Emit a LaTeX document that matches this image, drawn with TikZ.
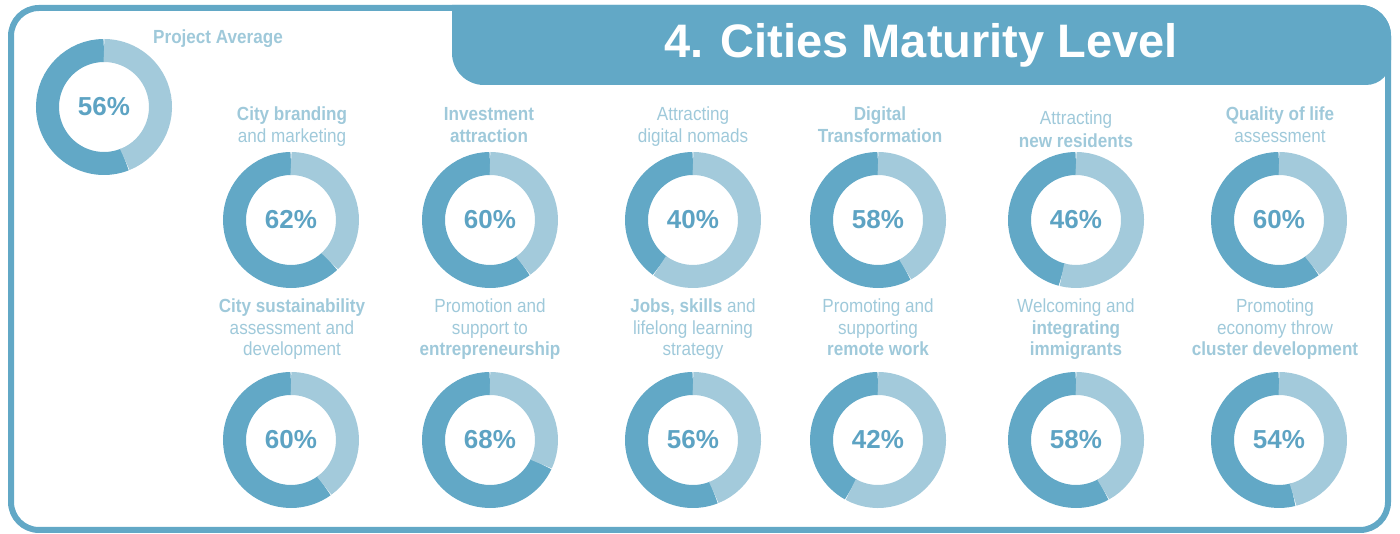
\documentclass[tikz,border=0pt]{standalone}
\usepackage{fontspec}
\setmainfont{Liberation Sans}
\newfontfamily\labelfont[FakeStretch=0.9]{Liberation Sans}
\definecolor{cdark}{HTML}{62A8C6}
\definecolor{clight}{HTML}{A3CADB}
\definecolor{cpct}{HTML}{5DA3C3}
\definecolor{clabel}{HTML}{9FC9DA}
\tikzset{
  donutdark/.style={draw=cdark, line width=23pt},
  donutlight/.style={draw=clight, line width=23pt},
  pct/.style={font=\fontsize{26}{30}\selectfont\bfseries, text=cpct, inner sep=0pt},
  lbl/.style={font=\labelfont\fontsize{19}{22.5}\selectfont, text=clabel, align=center, inner sep=0pt, text depth=4.5pt},
  lbltwo/.style={lbl, font=\labelfont\fontsize{19}{21.5}\selectfont},
  titletext/.style={font=\fontsize{47}{50}\selectfont\bfseries, text=white, inner sep=0pt},
  frame/.style={draw=cdark, line width=6pt, rounded corners=28pt},
}
\newcommand\mydonut[4]{%
  \node[pct] (#1) at (#2,#3) {#4\%};
  \draw[donutdark] (#1.center) ++(90:56.5) arc[start angle=90, end angle={90+3.6*#4}, radius=56.5];
  \draw[donutlight] (#1.center) ++({90+3.6*#4}:56.5) arc[start angle={90+3.6*#4}, end angle=450, radius=56.5];
}
\begin{document}
\begin{tikzpicture}[x=1pt,y=1pt]
\useasboundingbox (0,0) rectangle (1400,534);
% frame
\draw[frame] (11,4) rectangle (1388,526);
% banner
\fill[cdark] (452,529) -- (452,481) arc[start angle=180, end angle=270, radius=32]
  -- (1366,449) arc[start angle=270, end angle=360, radius=25]
  -- (1391,498) arc[start angle=0, end angle=90, radius=31] -- cycle;
\node[titletext] (title) at (921,489) {4. Cities Maturity Level};
% project average
\node[lbl, font=\labelfont\fontsize{19}{22}\selectfont\bfseries] (avglbl) at (218,495) {Project Average};
\mydonut{avg}{104}{427}{56}
% row 1
\mydonut{d1}{291}{314}{62}
\mydonut{d2}{490}{314}{60}
\mydonut{d3}{693}{314}{40}
\mydonut{d4}{878}{314}{58}
\mydonut{d5}{1076}{314}{46}
\mydonut{d6}{1279}{314}{60}
% row 2
\mydonut{e1}{291}{94}{60}
\mydonut{e2}{490}{94}{68}
\mydonut{e3}{693}{94}{56}
\mydonut{e4}{878}{94}{42}
\mydonut{e5}{1076}{94}{58}
\mydonut{e6}{1279}{94}{54}
% labels row 1
\node[lbl] (l1) at (292,407) {\bfseries City branding\\and marketing};
\node[lbl] (l2) at (489,407) {\bfseries Investment\\\bfseries attraction};
\node[lbl] (l3) at (693,407) {Attracting\\digital nomads};
\node[lbl] (l4) at (880,407) {\bfseries Digital\\\bfseries Transformation};
\node[lbl] (l5) at (1076,402.5) {Attracting\\\bfseries new residents};
\node[lbl] (l6) at (1280,407) {\bfseries Quality of life\\assessment};
% labels row 2
\node[lbltwo] (m1) at (292,204.5) {\bfseries City sustainability\\assessment and\\development};
\node[lbltwo] (m2) at (490,204.5) {Promotion and\\support to\\\bfseries entrepreneurship};
\node[lbltwo] (m3) at (693,204.5) {\textbf{Jobs, skills} and\\lifelong learning\\strategy};
\node[lbltwo] (m4) at (878,204.5) {Promoting and\\supporting\\\bfseries remote work};
\node[lbltwo] (m5) at (1076,204.5) {Welcoming and\\\bfseries integrating\\\bfseries immigrants};
\node[lbltwo] (m6) at (1275,204.5) {Promoting\\economy throw\\\bfseries cluster development};
\end{tikzpicture}
\end{document}
